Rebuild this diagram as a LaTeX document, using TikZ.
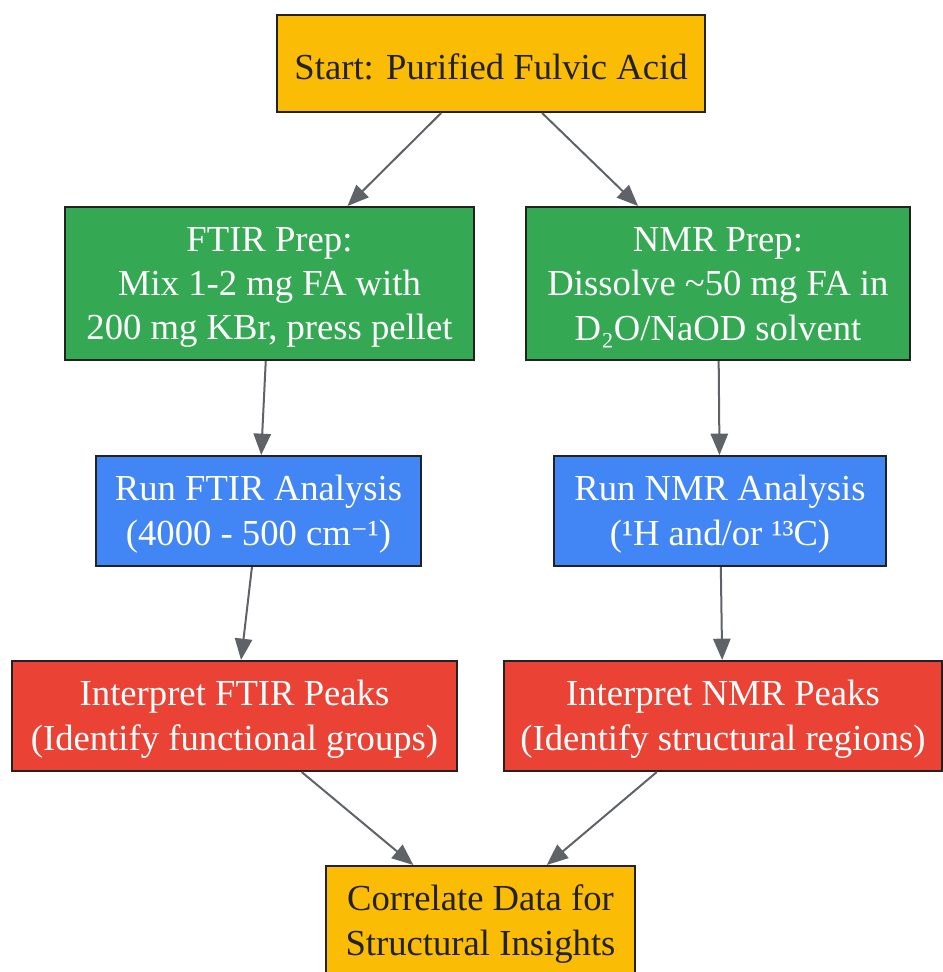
\documentclass[tikz,border=0pt]{standalone}
\usepackage{fontspec}
\setmainfont{Liberation Serif}
\newfontfamily\dejavuserif{DejaVu Serif}
\usetikzlibrary{arrows.meta}
\definecolor{gyellow}{HTML}{FBBC05}
\definecolor{ggreen}{HTML}{34A853}
\definecolor{gblue}{HTML}{4285F4}
\definecolor{gred}{HTML}{EA4335}
\definecolor{edgegray}{HTML}{5F6368}
\definecolor{borderdark}{HTML}{222222}
\definecolor{textdark}{HTML}{222222}
\tikzset{
  box/.style={draw=borderdark, line width=1.5pt, rectangle, align=center, inner sep=2pt,
    font=\fontsize{27.5}{33.2}\selectfont},
  ybox/.style={box, fill=gyellow, text=textdark},
  gbox/.style={box, fill=ggreen, text=white},
  bbox/.style={box, fill=gblue, text=white},
  rbox/.style={box, fill=gred, text=white},
  conn/.style={draw=edgegray, line width=1.5pt, -{Triangle[length=16pt,width=13pt]}, fill=edgegray}
}
\newcommand{\topfill}{\rule{0pt}{24pt}}
\begin{document}
\begin{tikzpicture}[x=0.75pt,y=-0.75pt]
\useasboundingbox (0,0) rectangle (943,972);
\node[ybox, minimum width=428*0.75pt, minimum height=97*0.75pt] (start) at (491,63.5) {\topfill Start: Purified Fulvic Acid};
\node[gbox, minimum width=409*0.75pt, minimum height=153*0.75pt] (ftirprep) at (269.5,283.5) {\topfill FTIR Prep:\\Mix 1-2 mg FA with\\200 mg KBr, press pellet};
\node[gbox, minimum width=384*0.75pt, minimum height=153*0.75pt] (nmrprep) at (718,283.5) {\topfill NMR Prep:\\Dissolve \textasciitilde50 mg FA in\\D₂O/NaOD solvent};
\node[bbox, minimum width=325*0.75pt, minimum height=110*0.75pt] (ftirrun) at (258.5,511) {\topfill Run FTIR Analysis\\(4000 - 500 cm{\dejavuserif\fontsize{24}{32.5}\selectfont ⁻}¹)};
\node[bbox, minimum width=332*0.75pt, minimum height=110*0.75pt] (nmrrun) at (720,511) {\topfill Run NMR Analysis\\(¹H and/or ¹³C)};
\node[rbox, minimum width=445*0.75pt, minimum height=110*0.75pt] (ftirint) at (234.5,716) {\topfill Interpret FTIR Peaks\\(Identify functional groups)};
\node[rbox, minimum width=438*0.75pt, minimum height=110*0.75pt] (nmrint) at (723,716) {\topfill Interpret NMR Peaks\\(Identify structural regions)};
\node[ybox, minimum width=309*0.75pt, minimum height=110*0.75pt] (corr) at (480.5,921) {\topfill Correlate Data for\\Structural Insights};
\draw[conn] (start) -- (ftirprep);
\draw[conn] (start) -- (nmrprep);
\draw[conn] (ftirprep) -- (ftirrun);
\draw[conn] (nmrprep) -- (nmrrun);
\draw[conn] (ftirrun) -- (ftirint);
\draw[conn] (nmrrun) -- (nmrint);
\draw[conn] (ftirint) -- (corr);
\draw[conn] (nmrint) -- (corr);
\end{tikzpicture}
\end{document}
